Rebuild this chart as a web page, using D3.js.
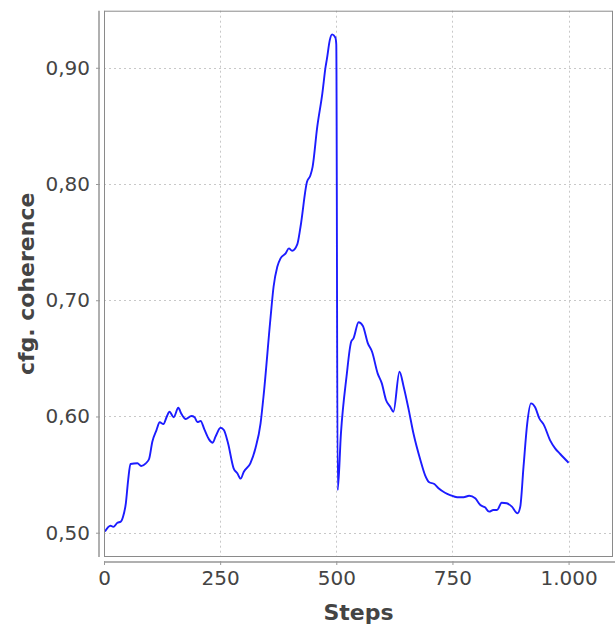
<!DOCTYPE html>
<html><head><meta charset="utf-8">
<script src="https://cdn.jsdelivr.net/npm/d3@7"></script>
<style>body{margin:0;background:#fff}svg{display:block}</style>
</head><body>
<svg id="c" width="616" height="629"></svg>
<script>
const steps = [2,14,20,29,36,41,47,52,57,72,80,90,97,104,113,120,128,135,141,150,160,166,176,188,195,201,208,216,226,234,240,251,258,267,279,287,294,301,315,326,337,344,358,365,373,380,391,398,405,416,423,437,444,449,459,470,477,480,486,491,498,500,503,510,522,532,537,548,557,568,577,589,598,607,616,623,636,645,656,666,681,691,700,711,720,734,745,760,774,786,799,810,820,829,838,846,856,867,878,890,896,903,911,919,928,937,947,960,971,982,1000];
const coherence = [0.501,0.506,0.505,0.5086,0.5095,0.5138,0.5253,0.5453,0.5591,0.5597,0.5574,0.5597,0.5634,0.5783,0.5883,0.595,0.5935,0.5998,0.6041,0.5993,0.6075,0.6027,0.5978,0.6004,0.5993,0.5952,0.5961,0.5889,0.5803,0.5774,0.5826,0.5903,0.5883,0.5769,0.5554,0.5511,0.5465,0.5525,0.5597,0.5726,0.5941,0.6199,0.683,0.7116,0.7288,0.736,0.7403,0.7446,0.7426,0.7481,0.7632,0.8019,0.8071,0.8148,0.8492,0.878,0.9009,0.9081,0.9238,0.9287,0.9261,0.92,0.5366,0.5855,0.6342,0.6643,0.6672,0.681,0.6781,0.6629,0.6557,0.6371,0.6285,0.6142,0.6084,0.6041,0.6385,0.6256,0.6055,0.5855,0.5625,0.5496,0.5434,0.5419,0.5382,0.5344,0.5324,0.5305,0.5305,0.5318,0.5296,0.5238,0.5218,0.5181,0.5195,0.5195,0.5258,0.5253,0.5224,0.5167,0.5224,0.5568,0.5941,0.6113,0.6079,0.5984,0.5926,0.5797,0.5726,0.5677,0.5602];
const xTicks = [0,250,500,750,1000];
const yTicks = [0.5,0.6,0.7,0.8,0.9];
const xTickLabels = ["0","250","500","750","1.000"];
const yTickLabels = ["0,50","0,60","0,70","0,80","0,90"];
const xTitle = "Steps", yTitle = "cfg. coherence";

const L=104, R=613, T=10.7, B=557;
const x = d3.scaleLinear().domain([0,1095.6]).range([L,R]);
const y = d3.scaleLinear().domain([0.4791,0.9491]).range([B,T]);
const svg = d3.select("#c");
const font = "DejaVu Sans, sans-serif";

svg.append("rect").attr("x",L).attr("y",T).attr("width",R-L).attr("height",B-T).attr("fill","#fff");
// grid
const g = svg.append("g");
g.selectAll("line.h").data(yTicks).join("line").attr("x1",L).attr("x2",R)
  .attr("y1",d=>Math.round(y(d))+0.5).attr("y2",d=>Math.round(y(d))+0.5)
  .attr("stroke","#c8c8c8").attr("stroke-dasharray","2,3");
g.selectAll("line.v").data(xTicks).join("line").attr("y1",T).attr("y2",B)
  .attr("x1",d=>Math.round(x(d))+0.5).attr("x2",d=>Math.round(x(d))+0.5)
  .attr("stroke","#c8c8c8").attr("stroke-dasharray","2,3");

// line
const line = d3.line().x((d,i)=>x(steps[i])).y(d=>y(d)).curve(d3.curveMonotoneX);
svg.append("path").attr("d",line(coherence)).attr("fill","none").attr("stroke","#1c1cff").attr("stroke-width",1.9);

svg.append("rect").attr("x",L+0.5).attr("y",T+0.5).attr("width",R-L-1).attr("height",B-T-1)
  .attr("fill","none").attr("stroke","#8a8a8a");

// y axis
const ya = svg.append("g").attr("transform",`translate(${L-4},0)`)
  .call(d3.axisLeft(y).tickValues(yTicks).tickFormat((d,i)=>yTickLabels[i]).tickSize(4).tickPadding(6));
ya.select(".domain").attr("stroke","#b0b0b0").attr("stroke-width",2).attr("d",`M-1,${T}V${B}`);
ya.selectAll(".tick line").attr("stroke","#999");
ya.selectAll("text").attr("font-family",font).attr("font-size",20).attr("fill","#444");

// x axis
const xa = svg.append("g").attr("transform",`translate(0,${B+4})`)
  .call(d3.axisBottom(x).tickValues(xTicks).tickFormat((d,i)=>xTickLabels[i]).tickSize(4).tickPadding(6));
xa.select(".domain").attr("stroke","#b0b0b0").attr("stroke-width",2).attr("d",`M${L},1H${R+2}`);
xa.selectAll(".tick line").attr("stroke","#999");
xa.selectAll("text").attr("font-family",font).attr("font-size",20).attr("fill","#444");

svg.append("text").attr("x",(L+R)/2).attr("y",620).attr("text-anchor","middle")
  .attr("font-family",font).attr("font-weight","bold").attr("font-size",22).attr("fill","#444").text(xTitle);
svg.append("text").attr("transform",`translate(34,${(T+B)/2}) rotate(-90)`).attr("text-anchor","middle")
  .attr("font-family",font).attr("font-weight","bold").attr("font-size",22).attr("fill","#444").text(yTitle);
</script>
</body></html>
